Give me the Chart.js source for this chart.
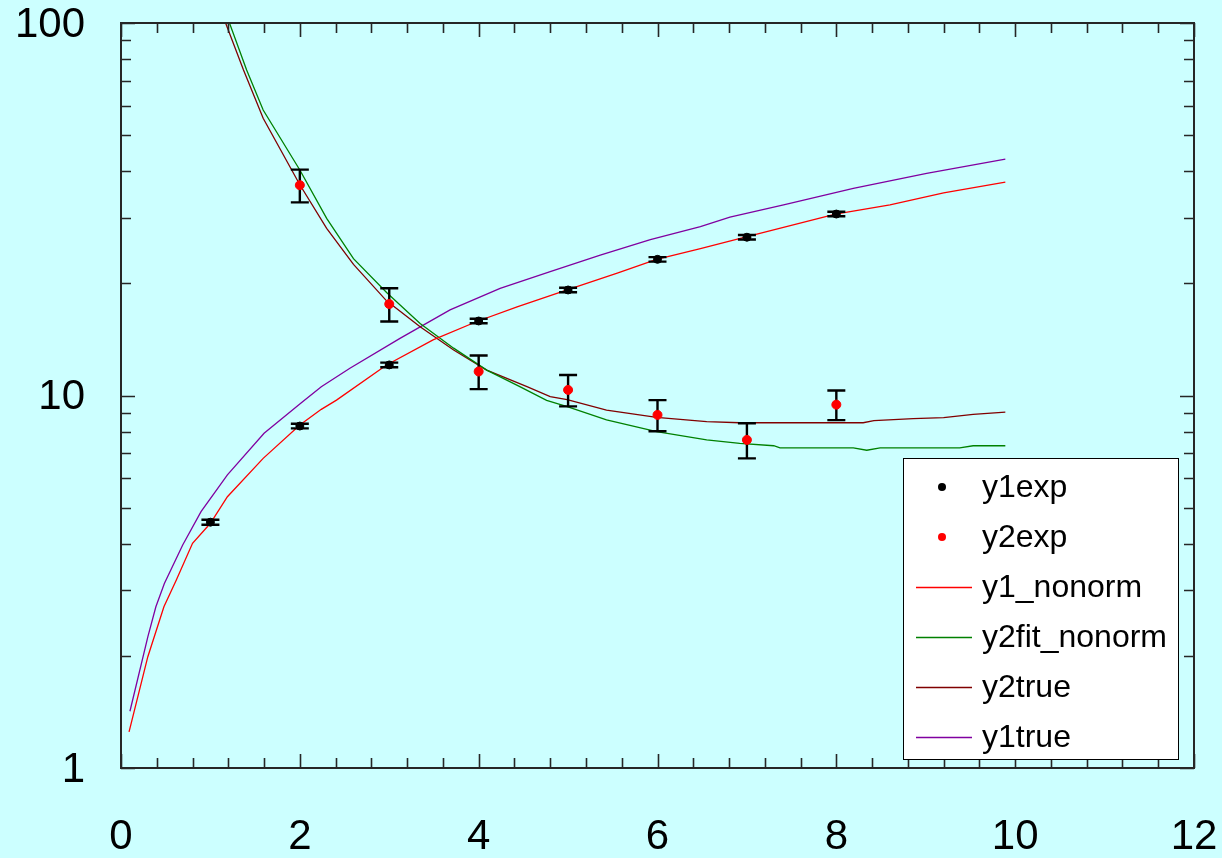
<!DOCTYPE html>
<html>
<head>
<meta charset="utf-8">
<title>y1 / y2 fit</title>
<script src="https://cdn.jsdelivr.net/npm/chart.js@4.4.1/dist/chart.umd.min.js"></script>
<style>
  html, body { margin: 0; padding: 0; background: #ccffff; }
  canvas { display: block; }
</style>
</head>
<body>
<canvas id="fitChart" width="1222" height="858"></canvas>
<script>
// measured points
const expX = [1, 2, 3, 4, 5, 6, 7, 8];
const y1exp = [4.57, 8.28, 12.08, 15.85, 19.2, 23.2, 26.6, 30.7];
const y1expErr = [0.07, 0.12, 0.17, 0.22, 0.27, 0.32, 0.37, 0.43];

const y2expX = [2, 3, 4, 5, 6, 7, 8];
const y2exp = [36.7, 17.6, 11.6, 10.35, 8.87, 7.6, 9.45];
const y2expErr = [3.7, 1.8, 1.2, 1.0, 0.85, 0.82, 0.86];

// model curves
const y1NonormX = [0.09, 0.3, 0.48, 0.62, 0.8, 1.0, 1.19, 1.59, 2.0, 2.24, 2.41, 2.97, 3.49, 3.98, 4.43, 4.99, 5.55, 5.99, 6.48, 6.98, 7.99, 8.6, 9.2, 9.89];
const y1Nonorm = [1.25, 1.99, 2.71, 3.2, 4.01, 4.54, 5.35, 6.78, 8.33, 9.18, 9.72, 12.08, 14.1, 15.8, 17.3, 19.2, 21.3, 23.2, 24.8, 26.6, 30.7, 32.5, 35.0, 37.4];

const y1TrueX = [0.1, 0.3, 0.39, 0.485, 0.69, 0.895, 1.19, 1.6, 2.01, 2.24, 2.56, 3.12, 3.68, 4.24, 4.8, 5.36, 5.92, 6.48, 6.81, 7.41, 8.19, 9.01, 9.89];
const y1True = [1.42, 2.25, 2.71, 3.13, 3.97, 4.88, 6.12, 7.92, 9.53, 10.56, 11.83, 14.24, 16.97, 19.4, 21.5, 23.8, 26.2, 28.4, 30.1, 32.5, 36.0, 39.5, 43.1];

const y2TrueX = [1.156, 1.37, 1.59, 2.0, 2.3, 2.6, 2.97, 3.345, 3.72, 4.09, 4.54, 4.8, 4.99, 5.43, 5.99, 6.55, 6.92, 8.3, 8.42, 8.86, 9.2, 9.53, 9.89];
const y2True = [102, 74.8, 55.5, 36.8, 28.1, 22.5, 17.95, 15.3, 13.25, 11.7, 10.56, 9.93, 9.75, 9.14, 8.74, 8.51, 8.45, 8.45, 8.56, 8.67, 8.72, 8.9, 9.02];

const y2FitX = [1.2, 1.405, 1.59, 2.0, 2.3, 2.6, 2.97, 3.345, 3.72, 4.09, 4.46, 4.76, 4.99, 5.43, 5.99, 6.55, 6.92, 7.3, 7.37, 8.19, 8.34, 8.49, 9.38, 9.53, 9.89];
const y2Fit = [102, 74.8, 58.4, 40.3, 29.9, 23.3, 18.9, 15.6, 13.4, 11.7, 10.56, 9.7, 9.33, 8.6, 8.0, 7.6, 7.44, 7.33, 7.23, 7.23, 7.13, 7.23, 7.23, 7.33, 7.33];

// axis ticks
const xTickLabels = [0, 2, 4, 6, 8, 10, 12];
const yTickLabels = [1, 10, 100];

const pairs = (xs, ys) => xs.map((x, i) => ({ x: x, y: ys[i] }));

const AXIS_FONT = '42px "Liberation Sans", Arial, sans-serif';
const LEGEND_FONT = '32px "Liberation Sans", Arial, sans-serif';

const datasets = [
  {
    label: "y1exp", data: pairs(expX, y1exp), errors: y1expErr,
    backgroundColor: "#000000", borderColor: "#000000",
    pointRadius: 4, showLine: false, marker: true
  },
  {
    label: "y2exp", data: pairs(y2expX, y2exp), errors: y2expErr,
    backgroundColor: "#ff0000", borderColor: "#ff0000",
    pointRadius: 4.5, showLine: false, marker: true
  },
  { label: "y1_nonorm", data: pairs(y1NonormX, y1Nonorm), borderColor: "#ff0000" },
  { label: "y2fit_nonorm", data: pairs(y2FitX, y2Fit), borderColor: "#008000" },
  { label: "y2true", data: pairs(y2TrueX, y2True), borderColor: "#800000" },
  { label: "y1true", data: pairs(y1TrueX, y1True), borderColor: "#8000a0" }
].map(ds => ds.marker ? ds : Object.assign({
  showLine: true, pointRadius: 0, borderWidth: 1.3, tension: 0, fill: false
}, ds));

// box, inward ticks on all four sides, tick labels, legend and error bars
const framePlugin = {
  id: "framePlugin",
  beforeDatasetDraw(chart, args) {
    const ds = chart.data.datasets[args.index];
    if (!ds.errors) return;
    const xs = chart.scales.x, ys = chart.scales.y, ctx = chart.ctx;
    ctx.save();
    ctx.strokeStyle = "#000";
    ctx.lineWidth = 2.4;
    ds.data.forEach((p, i) => {
      const e = ds.errors[i];
      const px = xs.getPixelForValue(p.x);
      const top = ys.getPixelForValue(p.y + e);
      const bot = ys.getPixelForValue(p.y - e);
      ctx.beginPath();
      ctx.moveTo(px, top); ctx.lineTo(px, bot);
      ctx.moveTo(px - 9, top); ctx.lineTo(px + 9, top);
      ctx.moveTo(px - 9, bot); ctx.lineTo(px + 9, bot);
      ctx.stroke();
    });
    ctx.restore();
  },
  afterDraw(chart) {
    const { ctx, chartArea: a } = chart;
    const xs = chart.scales.x, ys = chart.scales.y;
    ctx.save();
    ctx.strokeStyle = "#262626";
    ctx.lineWidth = 1.6;

    // x ticks every 0.4, long ones at labelled values
    for (let k = 0; k <= 30; k++) {
      const v = k * 0.4;
      const px = Math.round(xs.getPixelForValue(v)) + 0.5;
      const len = (k % 5 === 0) ? 14 : 10;
      ctx.beginPath();
      ctx.moveTo(px, a.bottom); ctx.lineTo(px, a.bottom - len);
      ctx.moveTo(px, a.top); ctx.lineTo(px, a.top + len);
      ctx.stroke();
    }
    // log y ticks
    for (let d = 1; d <= 100; d *= 10) {
      for (let m = 1; m <= 9; m++) {
        const v = d * m;
        if (v > 100) break;
        const py = Math.round(ys.getPixelForValue(v)) + 0.5;
        const len = m === 1 ? 14 : 10;
        ctx.beginPath();
        ctx.moveTo(a.left, py); ctx.lineTo(a.left + len, py);
        ctx.moveTo(a.right, py); ctx.lineTo(a.right - len, py);
        ctx.stroke();
      }
    }
    // frame
    ctx.lineWidth = 2;
    ctx.strokeRect(a.left, a.top, a.right - a.left, a.bottom - a.top);

    // tick labels
    ctx.fillStyle = "#000";
    ctx.font = AXIS_FONT;
    ctx.textBaseline = "middle";
    ctx.textAlign = "right";
    yTickLabels.forEach(v => ctx.fillText(String(v), a.left - 36, ys.getPixelForValue(v) + 2));
    ctx.textAlign = "center";
    xTickLabels.forEach(v => ctx.fillText(String(v), xs.getPixelForValue(v), a.bottom + 69));

    // legend
    const box = { left: a.right - 291, top: a.bottom - 310, right: a.right - 16, bottom: a.bottom - 9 };
    ctx.fillStyle = "#ffffff";
    ctx.fillRect(box.left, box.top, box.right - box.left, box.bottom - box.top);
    ctx.strokeStyle = "#000";
    ctx.lineWidth = 1;
    ctx.strokeRect(box.left + 0.5, box.top + 0.5, box.right - box.left, box.bottom - box.top);
    ctx.font = LEGEND_FONT;
    ctx.textAlign = "left";
    chart.data.datasets.forEach((ds, i) => {
      const cy = box.top + 29 + i * 50;
      if (ds.marker) {
        ctx.fillStyle = ds.backgroundColor;
        ctx.beginPath();
        ctx.arc(box.left + 39, cy, 4, 0, Math.PI * 2);
        ctx.fill();
      } else {
        ctx.strokeStyle = ds.borderColor;
        ctx.lineWidth = 1.3;
        ctx.beginPath();
        ctx.moveTo(box.left + 13, cy + 0.5); ctx.lineTo(box.left + 69, cy + 0.5);
        ctx.stroke();
      }
      ctx.fillStyle = "#000";
      ctx.fillText(ds.label, box.left + 79, cy + 1);
    });
    ctx.restore();
  }
};

new Chart(document.getElementById("fitChart").getContext("2d"), {
  type: "scatter",
  data: { datasets: datasets },
  options: {
    responsive: false,
    animation: false,
    devicePixelRatio: 1,
    layout: { padding: { left: 121, top: 23, right: 28, bottom: 90 } },
    plugins: { legend: { display: false }, tooltip: { enabled: false } },
    scales: {
      x: { type: "linear", min: 0, max: 12, display: false },
      y: { type: "logarithmic", min: 1, max: 100, display: false }
    }
  },
  plugins: [framePlugin]
});
</script>
</body>
</html>
